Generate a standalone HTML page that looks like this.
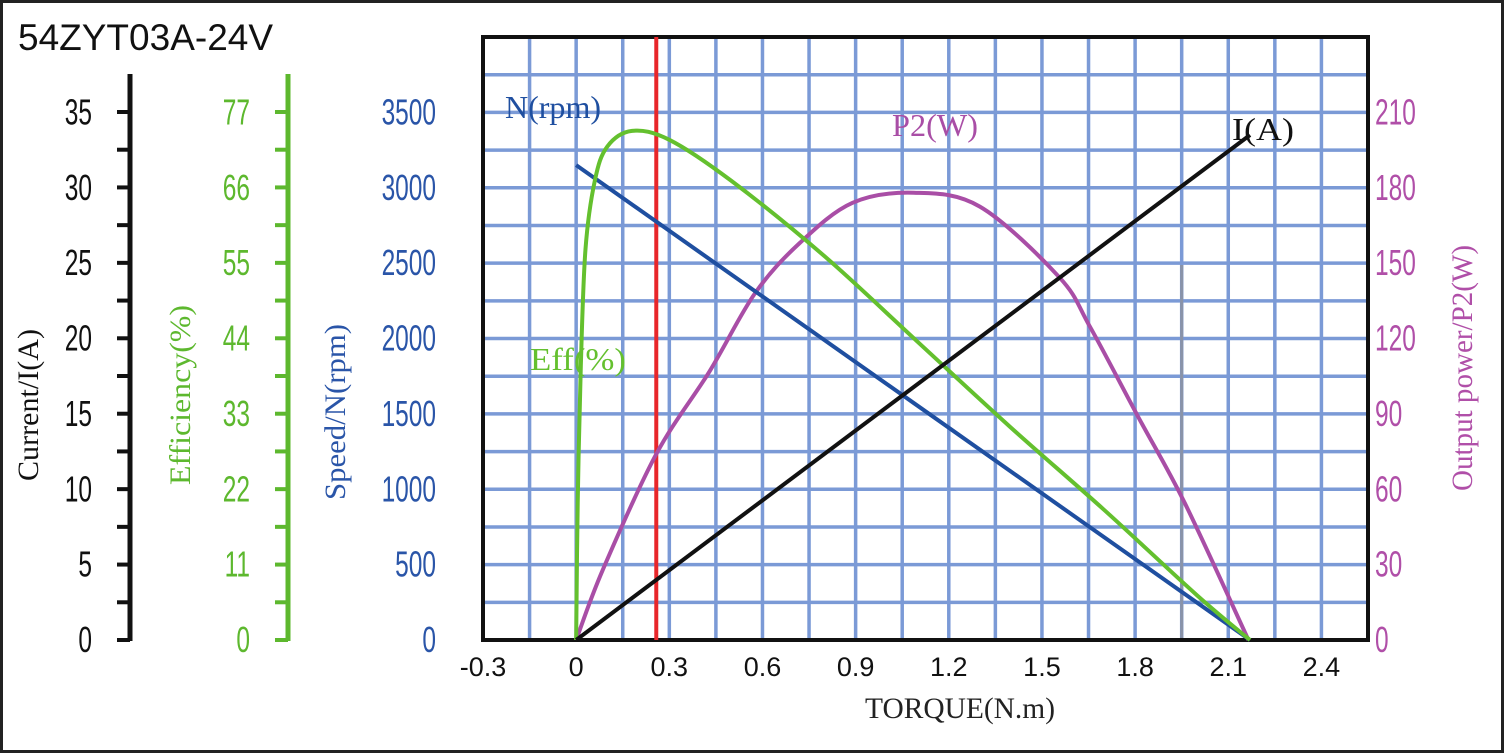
<!DOCTYPE html>
<html><head><meta charset="utf-8"><style>
html,body{margin:0;padding:0;background:#fff;}
svg{display:block;}
</style></head><body>
<svg id="chart" width="1504" height="753" viewBox="0 0 1504 753" xmlns="http://www.w3.org/2000/svg">
<rect x="1.5" y="1.5" width="1501" height="750" fill="#fff" stroke="#222" stroke-width="3"/>
<text x="18" y="50" font-family="Liberation Sans, sans-serif" font-size="37" fill="#111">54ZYT03A-24V</text>
<g id="grid"></g>
<g id="axes"></g>
<g id="series"></g>
<g id="labels"></g>
</svg>
<script>
const torqueTicks = [-0.3,0,0.3,0.6,0.9,1.2,1.5,1.8,2.1,2.4];
const currentTicks = [0,5,10,15,20,25,30,35];
const effTicks = [0,11,22,33,44,55,66,77];
const speedTicks = [0,500,1000,1500,2000,2500,3000,3500];
const powerTicks = [0,30,60,90,120,150,180,210];
const speedTorque = [0,2.17];
const speedValues = [3150,0];
const currentTorque = [0,2.17];
const currentValues = [0,33.5];
const effTorque = [0,0.005,0.015,0.03,0.06,0.1,0.18,0.3,0.5,0.8,1.1,1.4,1.7,2.0,2.17];
const effValues = [0,20,40,57,67,72,74.3,73,67,56,43.5,31,19,6.5,0];
const powerTorque = [0,0.086,0.258,0.43,0.576,0.72,0.89,1.087,1.30,1.555,1.655,1.81,1.96,2.165];
const powerValues = [0,28,74,107,138,158,174,178,172.5,144.5,124.6,88.8,54.5,0];
const markerTorque = 0.258;

const NS='http://www.w3.org/2000/svg';
const L=483,R=1368,T=37,B=640;
const xMin=-0.3,xMax=2.55;
function X(t){return L+(t-xMin)/(xMax-xMin)*(R-L);}
function Yf(max){return v=>B-v/max*(B-T);}
const yCur=Yf(40),yEff=Yf(88),ySpd=Yf(4000),yPow=Yf(240);
function el(tag,attrs,parent,txt){const e=document.createElementNS(NS,tag);for(const k in attrs)e.setAttribute(k,attrs[k]);if(txt!==undefined)e.textContent=txt;parent.appendChild(e);return e;}
const grid=document.getElementById('grid'),axes=document.getElementById('axes'),series=document.getElementById('series'),labels=document.getElementById('labels');
const FN='Liberation Sans Narrow, Liberation Sans, sans-serif';
const FS='Liberation Serif, serif';
function ctext(x,y,s,color,size,anchor,parent,name,rot){
  const g=el('g',{transform:`translate(${x},${y})`+(rot?` rotate(${rot})`:'')+' scale(0.68,1)'},parent);
  const t=el('text',{x:0,y:0,'font-family':FN,'font-size':size,fill:color,'text-anchor':anchor},g,s);
  
  
  return t;
}
function stext(x,y,s,color,size,len,parent,name,rot,anchor){
  const g=el('g',{transform:`translate(${x},${y})`+(rot?` rotate(${rot})`:'')},parent);
  const t=el('text',{x:0,y:0,'font-family':FS,'font-size':size,fill:color,'text-anchor':anchor||'start',textLength:len,lengthAdjust:'spacingAndGlyphs'},g,s);
  
  
  return t;
}
el('rect',{x:L,y:T,width:R-L,height:B-T,fill:'#fff'},grid);
for(let t=xMin;t<=xMax+1e-6;t+=0.15){
  const ln=el('line',{x1:X(t),x2:X(t),y1:T,y2:B,stroke:'#7b9ad6','stroke-width':3.5},grid);
  
  
}
for(let v=250;v<4000;v+=250){
  const ln=el('line',{x1:L,x2:R,y1:ySpd(v),y2:ySpd(v),stroke:'#7b9ad6','stroke-width':3.5},grid);
  
  
}
const gl=el('line',{x1:X(1.95),x2:X(1.95),y1:265,y2:B,stroke:'#8a93a8','stroke-width':3},grid);


const frame=el('rect',{x:L,y:T,width:R-L,height:B-T,fill:'none',stroke:'#111','stroke-width':4},grid);


torqueTicks.forEach(t=>{
  const tx=el('text',{x:X(t),y:676,'font-family':'Liberation Sans, sans-serif','font-size':27,fill:'#111','text-anchor':'middle'},labels,t===0?'0':t.toFixed(1));
  
  
});
stext(960,718,'TORQUE(N.m)','#222',30,190,labels,'x-axis-title',0,'middle');
function leftAxis(ax,ticks,yfun,color,labelX,name){
  const line=el('line',{x1:ax,x2:ax,y1:74,y2:641,stroke:color,'stroke-width':5},axes);
  
  
  for(let i=0;i<15;i++){
    const y=B-i*(B-112)/14;
    const tk=el('line',{x1:ax-13,x2:ax,y1:y,y2:y,stroke:color,'stroke-width':4},axes);
    
    
  }
  ticks.forEach(v=>ctext(labelX,yfun(v)+12,String(v),color,36,'end',labels,name+'-tick-label'));
}
leftAxis(130,currentTicks,yCur,'#111',92,'current');
leftAxis(288,effTicks,yEff,'#5db82e',250,'efficiency');
speedTicks.forEach(v=>ctext(436,ySpd(v)+12,String(v),'#2a55a8',36,'end',labels,'speed-tick-label'));
powerTicks.forEach(v=>ctext(1375,yPow(v)+12,String(v),'#b04fa8',36,'start',labels,'power-tick-label'));
stext(38,405,'Current/I(A)','#111',30,152,labels,'current-axis-title',-90,'middle');
stext(190,395,'Efficiency(%)','#5db82e',30,180,labels,'efficiency-axis-title',-90,'middle');
stext(345,412,'Speed/N(rpm)','#2a55a8',30,176,labels,'speed-axis-title',-90,'middle');
stext(1472,368,'Output power/P2(W)','#b04fa8',30,246,labels,'power-axis-title',-90,'middle');
function smooth(xs,ys,xf,yf){
  const p=xs.map((x,i)=>[xf(x),yf(ys[i])]);
  let d=`M${p[0][0]},${p[0][1]}`;
  for(let i=0;i<p.length-1;i++){
    const p0=p[i-1]||p[i],p1=p[i],p2=p[i+1],p3=p[i+2]||p2;
    const c1=[p1[0]+(p2[0]-p0[0])/6,p1[1]+(p2[1]-p0[1])/6];
    const c2=[p2[0]-(p3[0]-p1[0])/6,p2[1]-(p3[1]-p1[1])/6];
    d+=` C${c1[0]},${c1[1]} ${c2[0]},${c2[1]} ${p2[0]},${p2[1]}`;
  }
  return d;
}
const mk=el('line',{x1:X(markerTorque),x2:X(markerTorque),y1:T,y2:B,stroke:'#e8262a','stroke-width':4},series);


const sp=el('path',{d:smooth(powerTorque,powerValues,X,yPow),fill:'none',stroke:'#a94ea6','stroke-width':4},series);


const ss=el('path',{d:smooth(speedTorque,speedValues,X,ySpd),fill:'none',stroke:'#1f4fa0','stroke-width':4},series);


const se=el('path',{d:smooth(effTorque,effValues,X,yEff),fill:'none',stroke:'#64c02e','stroke-width':4},series);


const sc=el('path',{d:smooth(currentTorque,currentValues,X,yCur),fill:'none',stroke:'#111','stroke-width':4},series);


stext(505,118,'N(rpm)','#1f4fa0',32,96,labels,'speed-series-label');
stext(892,136,'P2(W)','#a94ea6',32,86,labels,'power-series-label');
stext(1232,140,'I(A)','#111',32,62,labels,'current-series-label');
stext(530,370,'Eff(%)','#64c02e',32,96,labels,'efficiency-series-label');
</script>
</body></html>
